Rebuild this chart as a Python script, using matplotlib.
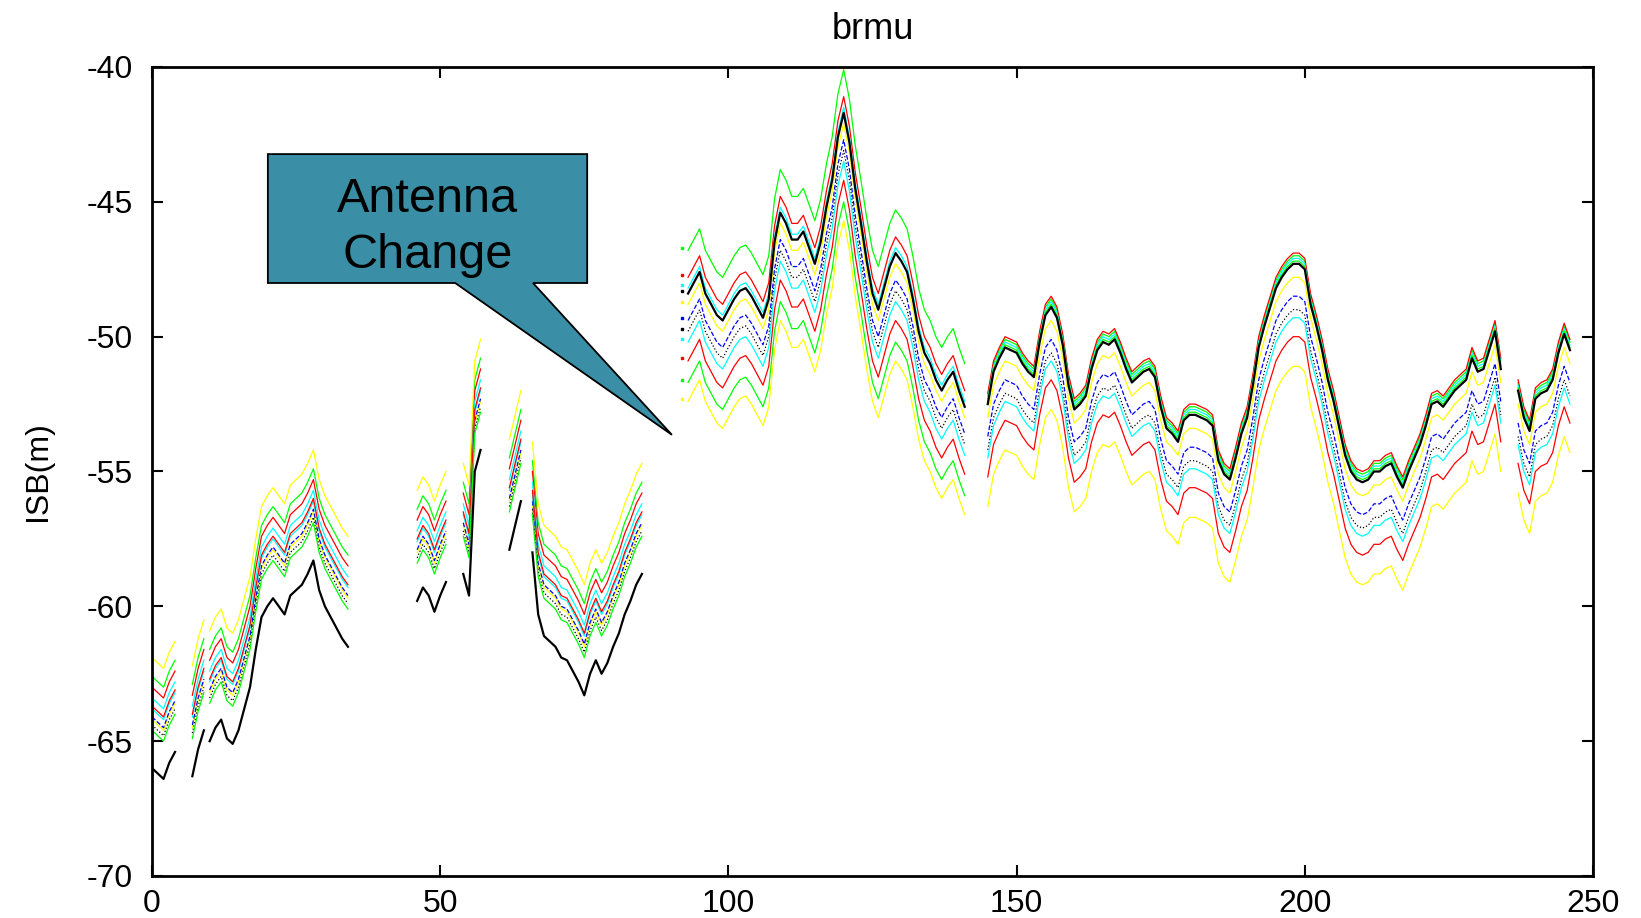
# Libraries ----------------------------------------

import numpy as np
import matplotlib
matplotlib.use("Agg")
import matplotlib.pyplot as plt
from matplotlib.patches import Polygon

plt.rcParams['font.family'] = ['Liberation Sans', 'DejaVu Sans']
plt.rcParams['axes.unicode_minus'] = False

# Data ----------------------------------------
# base curve for each data segment, day of year -> ISB (m)

days_a = [0, 1, 2, 3, 4]
isb_a = [-64.0, -64.2, -64.4, -63.8, -63.4]

days_b = [7, 8, 9]
isb_b = [-64.3, -63.3, -62.6]

days_c = list(range(10, 35))
isb_c = [-63.0, -62.5, -62.2, -62.9, -63.1, -62.6, -61.8, -61.0, -59.6, -58.4,
         -58.0, -57.7, -58.0, -58.3, -57.6, -57.4, -57.2, -56.8, -56.3, -57.4,
         -58.0, -58.4, -58.8, -59.2, -59.5]

days_d = [46, 47, 48, 49, 50, 51]
isb_d = [-57.8, -57.3, -57.6, -58.2, -57.6, -57.1]

days_e = [54, 55, 56, 57]
isb_e = [-56.8, -57.6, -53.0, -52.2]

days_f = [62, 63, 64]
isb_f = [-55.9, -55.0, -54.1]

days_g = list(range(66, 86))
isb_g = [-56.0, -58.3, -59.1, -59.3, -59.5, -59.9, -60.0, -60.4, -60.8, -61.3,
         -60.5, -60.0, -60.5, -60.1, -59.5, -59.0, -58.3, -57.8, -57.2, -56.8]

days_p = [92]
isb_p = [-48.3]

days_h = list(range(93, 142))
isb_h = [-48.4, -48.0, -47.6, -48.4, -48.8, -49.2, -49.4, -49.0, -48.6, -48.3,
         -48.2, -48.5, -48.9, -49.3, -48.6, -46.5, -45.4, -45.8, -46.4, -46.4,
         -46.1, -46.7, -47.3, -46.5, -45.2, -44.2, -42.6, -41.7, -42.8, -44.5,
         -45.8, -47.2, -48.4, -49.0, -48.2, -47.4, -46.9, -47.2, -47.6, -48.6,
         -49.8, -50.6, -51.0, -51.6, -52.0, -51.6, -51.3, -52.0, -52.6]

days_i = list(range(145, 235))
isb_i = [-52.5, -51.3, -50.8, -50.4, -50.5, -50.6, -51.0, -51.3, -51.5, -50.2,
         -49.2, -48.9, -49.3, -50.3, -51.8, -52.7, -52.5, -52.2, -51.2, -50.5,
         -50.2, -50.3, -50.1, -50.6, -51.2, -51.7, -51.5, -51.3, -51.2, -51.5,
         -52.6, -53.4, -53.6, -53.9, -53.1, -52.9, -52.9, -53.0, -53.1, -53.3,
         -54.6, -55.1, -55.3, -54.5, -53.6, -53.0, -51.8, -50.4, -49.6, -48.9,
         -48.2, -47.8, -47.5, -47.3, -47.3, -47.5, -48.8, -49.6, -50.5, -51.6,
         -52.4, -53.4, -54.4, -55.0, -55.3, -55.4, -55.3, -55.0, -55.0, -54.8,
         -54.7, -55.2, -55.6, -55.0, -54.5, -54.0, -53.3, -52.5, -52.4, -52.6,
         -52.3, -52.0, -51.8, -51.6, -50.8, -51.3, -51.2, -50.5, -49.8, -51.2]

days_j = list(range(237, 247))
isb_j = [-52.0, -53.0, -53.5, -52.3, -52.1, -52.0, -51.6, -50.6, -49.9, -50.5]

# one line per satellite group, offset from the base curve (m)
line_colors = ['#00ff00', '#ff0000', '#00ffff', '#ffff00', '#0000ff', '#000000',
               '#00ffff', '#ff0000', '#00ff00', '#ffff00', '#000000']
line_styles = ['-', '-', '-', '-', '--', ':', '-', '-', '-', '-', '-']
offset_left = [1.4, 1.0, 0.6, -0.2, -0.1, -0.4, 0.2, 0.3, -0.6, 2.1, -2.0]
offset_mid = [1.6, 0.6, 0.2, -0.4, -1.0, -1.4, -1.8, -2.5, -3.3, -4.0, 0.0]
offset_right = [0.3, 0.4, 0.2, -0.5, -1.2, -1.7, -2.0, -2.7, 0.1, -3.8, 0.0]

segments = [
    (days_a, isb_a, offset_left), (days_b, isb_b, offset_left),
    (days_c, isb_c, offset_left), (days_d, isb_d, offset_left),
    (days_e, isb_e, offset_left), (days_f, isb_f, offset_left),
    (days_g, isb_g, offset_left), (days_h, isb_h, offset_mid),
    (days_i, isb_i, offset_right), (days_j, isb_j, offset_right),
]

# Plot ----------------------------------------

fig = plt.figure(figsize=(16.41, 9.18), dpi=100)
ax = fig.add_axes([152 / 1641, 1 - 876 / 918, 1441 / 1641, 809 / 918])

for k, (col, ls) in enumerate(zip(line_colors, line_styles)):
    lw = 1.6 if k == len(line_colors) - 1 else 0.9
    for days, isb, offs in segments:
        ax.plot(days, np.array(isb) + offs[k], color=col, linestyle=ls, linewidth=lw)
    ax.plot(days_p, np.array(isb_p) + offset_mid[k], color=col, marker='s',
            markersize=2, linestyle='none')

# callout box
box = Polygon([(20.1, -43.23), (75.5, -43.23), (75.5, -48.01), (66.1, -48.01),
               (90.2, -53.64), (52.6, -48.01), (20.1, -48.01)],
              closed=True, facecolor='#3a8fa6', edgecolor='black', linewidth=1.3,
              zorder=5)
ax.add_patch(box)
ax.text(47.8, -45.95, 'Antenna\nChange', ha='center', va='center', fontsize=35,
        linespacing=1.3, zorder=6)

ax.set_xlim(0, 250)
ax.set_ylim(-70, -40)
ax.set_xticks(np.arange(0, 251, 50))
ax.set_yticks(np.arange(-70, -39, 5))
ax.tick_params(direction='in', length=8, width=1.5, labelsize=23,
               top=True, right=True)
ax.tick_params(axis='x', pad=9)
ax.tick_params(axis='y', pad=14)
for sp in ax.spines.values():
    sp.set_linewidth(2)
ax.set_title('brmu', fontsize=26, pad=20)
ax.set_ylabel('ISB(m)', fontsize=23, labelpad=24)

# Save ----------------------------------------

fig.savefig('out.png', dpi=100)
